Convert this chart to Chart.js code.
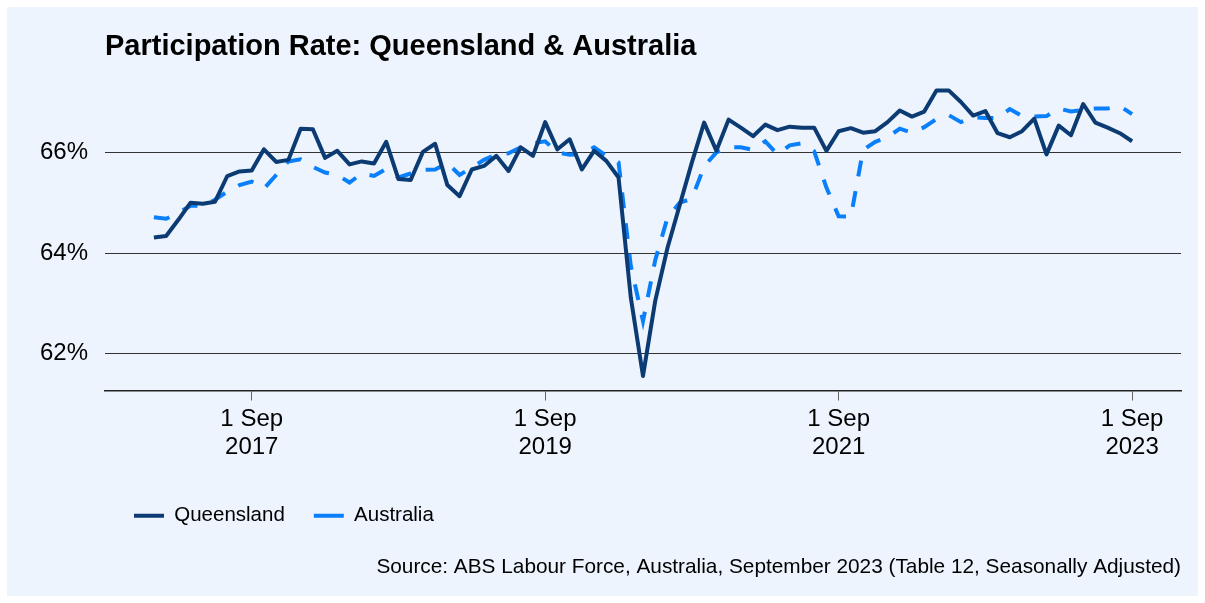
<!DOCTYPE html>
<html>
<head>
<meta charset="utf-8">
<script src="https://cdn.jsdelivr.net/npm/chart.js@4.4.1/dist/chart.umd.min.js"></script>
<style>
  html, body { margin: 0; padding: 0; background: #ffffff; }
  .chart_box { width: 1205px; height: 603px; }
</style>
</head>
<body>
<div class="chart_box"><canvas id="participation"></canvas></div>
<script>
"use strict";

// months Jan 2017 .. Sep 2023 (x axis categories)
let months = [];
for (let y = 2017; y <= 2023; y++) {
  for (let m = 1; m <= 12; m++) {
    if (y === 2023 && m > 9) break;
    months.push(y + '-' + String(m).padStart(2, '0'));
  }
}

// participation rate, %
let queensland = [
  64.31, 64.34, 64.66, 65.00, 64.98, 65.02, 65.53, 65.62, 65.64, 66.06, 65.81, 65.85,
  66.47, 66.46, 65.89, 66.03, 65.76, 65.82, 65.78, 66.21, 65.47, 65.45, 66.01, 66.17,
  65.35, 65.13, 65.66, 65.73, 65.93, 65.63, 66.10, 65.93, 66.60, 66.06, 66.26, 65.66,
  66.03, 65.83, 65.50, 63.12, 61.56, 63.05, 64.10, 64.95, 65.80, 66.59, 66.03, 66.65,
  66.49, 66.32, 66.55, 66.44, 66.51, 66.49, 66.49, 66.03, 66.42, 66.48, 66.39, 66.42,
  66.60, 66.83, 66.71, 66.81, 67.23, 67.23, 67.00, 66.73, 66.82, 66.38, 66.30, 66.42,
  66.67, 65.96, 66.53, 66.34, 66.96, 66.59, 66.49, 66.38, 66.22
];

let australia = [
  64.71, 64.68, 64.80, 64.94, 64.94, 65.06, 65.22, 65.35, 65.42, 65.28, 65.55, 65.82,
  65.86, 65.71, 65.60, 65.55, 65.40, 65.58, 65.53, 65.67, 65.50, 65.58, 65.65, 65.66,
  65.79, 65.55, 65.70, 65.85, 65.96, 65.98, 66.10, 66.18, 66.22, 66.00, 65.95, 65.97,
  66.10, 65.93, 65.80, 63.75, 62.65, 63.86, 64.70, 65.00, 65.08, 65.72, 66.00, 66.10,
  66.10, 66.05, 66.22, 65.96, 66.14, 66.18, 66.02, 65.30, 64.73, 64.72, 66.05, 66.21,
  66.30, 66.47, 66.39, 66.50, 66.66, 66.74, 66.60, 66.70, 66.68, 66.68, 66.86, 66.72,
  66.71, 66.72, 66.87, 66.81, 66.84, 66.87, 66.87, 66.92, 66.76
];

// tick labels
let xTickMonths = ['2017-09', '2019-09', '2021-09', '2023-09'];
let yTicks = [62, 64, 66];

let sourceText = 'Source: ABS Labour Force, Australia, September 2023 (Table 12, Seasonally Adjusted)';

Chart.defaults.font.family = "'Liberation Sans', Arial, Helvetica, sans-serif";
Chart.defaults.color = '#000000';

// panel background
const panelBg = {
  id: 'panelBg',
  beforeDraw(chart) {
    const c = chart.ctx;
    c.save();
    c.fillStyle = '#ffffff';
    c.fillRect(0, 0, chart.width, chart.height);
    c.fillStyle = '#edf4fd';
    c.fillRect(7, 7, chart.width - 14, chart.height - 14);
    c.restore();
  }
};

let ctx = document.getElementById('participation');

let participation = new Chart(ctx, {
  type: 'line',
  data: {
    datasets: [
      {
        label: 'Queensland',
        data: queensland.map((v, i) => ({ x: i, y: v })),
        borderColor: '#0b3b72',
        backgroundColor: '#0b3b72',
        borderWidth: 4,
        borderJoinStyle: 'round',
        pointRadius: 0,
        pointStyle: 'line',
        tension: 0
      },
      {
        label: 'Australia',
        data: australia.map((v, i) => ({ x: i, y: v })),
        borderColor: '#0a7ffa',
        backgroundColor: '#0a7ffa',
        borderWidth: 4,
        borderDash: [16, 15],
        pointRadius: 0,
        pointStyle: 'line',
        tension: 0
      }
    ]
  },
  options: {
    responsive: true,
    maintainAspectRatio: false,
    animation: false,
    layout: { padding: { top: 7, left: 7, right: 24, bottom: 7 } },
    plugins: {
      title: {
        display: true,
        text: 'Participation Rate: Queensland & Australia',
        align: 'start',
        fullSize: false,
        color: '#000000',
        font: { size: 29, weight: 'bold' },
        padding: { top: 23, bottom: 12 }
      },
      subtitle: {
        display: true,
        text: sourceText,
        position: 'bottom',
        align: 'end',
        fullSize: false,
        color: '#000000',
        font: { size: 20.8 },
        padding: { top: 19, bottom: 16 }
      },
      legend: {
        position: 'bottom',
        align: 'start',
        fullSize: false,
        labels: {
          usePointStyle: true,
          pointStyleWidth: 30,
          padding: 29,
          color: '#000000',
          font: { size: 20.5 }
        }
      },
      tooltip: { enabled: false }
    },
    scales: {
      x: {
        type: 'linear',
        min: -4,
        max: 84,
        afterBuildTicks: (scale) => {
          scale.ticks = xTickMonths.map(m => ({ value: months.indexOf(m) }));
        },
        afterFit: (scale) => { scale.height = 86; },
        ticks: {
          autoSkip: false,
          maxRotation: 0,
          padding: 4,
          color: '#000000',
          font: { size: 24 },
          callback: (value) => ['1 Sep', months[value].slice(0, 4)]
        },
        grid: {
          drawOnChartArea: false,
          drawTicks: true,
          tickLength: 10,
          color: '#666666'
        },
        border: { display: true, color: '#222222', width: 1.5 }
      },
      y: {
        min: 61.27,
        max: 67.5,
        afterBuildTicks: (scale) => {
          scale.ticks = yTicks.map(v => ({ value: v }));
        },
        afterFit: (scale) => { scale.width = 98; },
        ticks: {
          padding: 17,
          color: '#000000',
          font: { size: 24 },
          callback: (value) => value + '%'
        },
        grid: { drawTicks: false, color: '#333333', lineWidth: 1 },
        border: { display: false }
      }
    }
  },
  plugins: [panelBg]
});
</script>
</body>
</html>
